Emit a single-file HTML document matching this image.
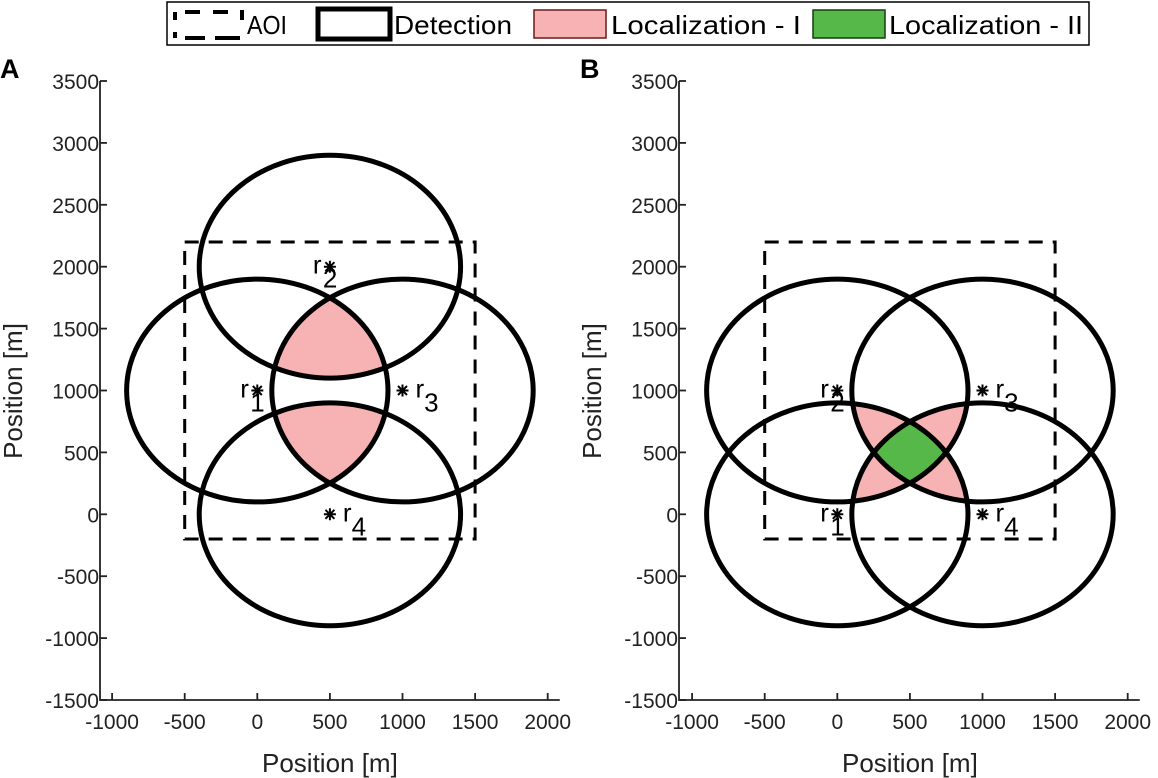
<!DOCTYPE html>
<html><head><meta charset="utf-8"><style>
body{margin:0;background:#fff}
svg{display:block;font-family:"Liberation Sans",Arial,sans-serif}
</style></head><body>
<svg id="fig" width="1158" height="778" viewBox="0 0 1158 778">
<g id="legend">
<rect x="167" y="2" width="922" height="43" fill="#fff" stroke="#000" stroke-width="1.5"/>
<g>
<path d="M175,12V20 M175,32V38 M185,38H205 M215,38H240 M185,12H200 M213,12H228 M242,10V20" fill="none" stroke="#000" stroke-width="4"/>
<text x="247" y="34" font-size="26" textLength="40" lengthAdjust="spacingAndGlyphs">AOI</text></g>
<g>
<rect x="318" y="9" width="72" height="30" fill="#fff" stroke="#000" stroke-width="5"/>
<text x="394" y="34" font-size="26" textLength="118" lengthAdjust="spacingAndGlyphs">Detection</text></g>
<g>
<rect x="534" y="10" width="72" height="28" fill="#f7b3b4" stroke="#6b1a1a" stroke-width="1.5"/>
<text x="611" y="34" font-size="26" textLength="190" lengthAdjust="spacingAndGlyphs">Localization - I</text></g>
<g>
<rect x="813" y="10" width="72" height="28" fill="#55b848" stroke="#1a3a12" stroke-width="1.5"/>
<text x="889" y="34" font-size="26" textLength="194" lengthAdjust="spacingAndGlyphs">Localization - II</text></g>
</g>
</svg>
<script>
// data
const xTicks=[-1000,-500,0,500,1000,1500,2000];
const yTicks=[-1500,-1000,-500,0,500,1000,1500,2000,2500,3000,3500];
const radius=900;
const aoi=[-500,-200,1500,2200]; // xmin,ymin,xmax,ymax
const receiversA_x=[0,500,1000,500];
const receiversA_y=[1000,2000,1000,0];
const receiversB_x=[0,0,1000,1000];
const receiversB_y=[0,1000,1000,0];
const labelsA=["1","2","3","4"];
const labelsB=["1","2","3","4"];

const NS="http://www.w3.org/2000/svg";
const svg=document.getElementById('fig');
function mk(tag,attrs,parent){const e=document.createElementNS(NS,tag);for(const k in attrs)e.setAttribute(k,attrs[k]);(parent||svg).appendChild(e);return e;}

const panels=[
 {id:'a',left:100,zeroX:257.3,letter:'A',lx:0,rx:receiversA_x,ry:receiversA_y,lab:labelsA,
  regions:[{cs:[0,1,2],fill:'#f7b3b4'},{cs:[0,2,3],fill:'#f7b3b4'}],
  side:['l','l','r','r']},
 {id:'b',left:679,zeroX:837.3,letter:'B',lx:580,rx:receiversB_x,ry:receiversB_y,lab:labelsB,
  regions:[{cs:[0,1,2],fill:'#f7b3b4'},{cs:[1,2,3],fill:'#f7b3b4'},{cs:[2,3,0],fill:'#f7b3b4'},{cs:[3,0,1],fill:'#f7b3b4'},{cs:[0,1,2,3],fill:'#55b848'}],
  side:['l','l','r','r']}
];
const kx=0.1452, ky=0.1238, zeroY=514.3;
const defs=mk('defs',{});
panels.forEach(p=>{
 const X=v=>p.zeroX+v*kx, Y=v=>zeroY-v*ky;
 const right=X(2083), top=Y(3500), bottom=Y(-1500);
 const g=mk('g',{});
 
 
 const L=mk('text',{x:p.lx,y:78,'font-size':27,'font-weight':'bold'},g);L.textContent=p.letter;
 
 
 p.rx.forEach((cx,i)=>{const cp=mk('clipPath',{id:'c'+p.id+i},defs);
  mk('ellipse',{cx:X(cx),cy:Y(p.ry[i]),rx:radius*kx,ry:radius*ky},cp);});
 p.regions.forEach((r,ri)=>{
  const wrap=mk('g',{},g);
  
  
  let parent=wrap;
  for(let j=1;j<r.cs.length;j++){parent=mk('g',{'clip-path':'url(#c'+p.id+r.cs[j]+')'},parent);}
  const c=r.cs[0];
  mk('ellipse',{cx:X(p.rx[c]),cy:Y(p.ry[c]),rx:radius*kx,ry:radius*ky,fill:r.fill,stroke:'#5a1414','stroke-width':3},parent);
 });
 const a=mk('rect',{x:X(aoi[0]),y:Y(aoi[3]),width:X(aoi[2])-X(aoi[0]),height:Y(aoi[1])-Y(aoi[3]),fill:'none',stroke:'#000','stroke-width':3,'stroke-dasharray':'14,10'},g);
 
 
 p.rx.forEach((cx,i)=>{
  const e=mk('ellipse',{cx:X(cx),cy:Y(p.ry[i]),rx:radius*kx,ry:radius*ky,fill:'none',stroke:'#000','stroke-width':5},g);
  
  
 });
 p.rx.forEach((cx,i)=>{
  const sx=X(cx),sy=Y(p.ry[i]);
  const s=mk('path',{d:`M${sx-6},${sy}H${sx+6}M${sx},${sy-6}V${sy+6}M${sx-4.5},${sy-4.5}L${sx+4.5},${sy+4.5}M${sx-4.5},${sy+4.5}L${sx+4.5},${sy-4.5}`,stroke:'#000','stroke-width':2},g);
  
  
  const left=p.side[i]==='l';
  const t=mk('text',{x:left?sx-17:sx+13,y:sy+7,'font-size':26},g);
  t.textContent='r';
  const sub=mk('tspan',{dx:left?0:0,dy:14,'font-size':26},t);sub.textContent=p.lab[i];
  if(left){sub.setAttribute('x',sx-7);}
  
  
 });
 const ax=mk('path',{d:`M${p.left},${top}V${bottom}H${right}`,fill:'none',stroke:'#222','stroke-width':1.8},g);
 
 
 xTicks.forEach(v=>{
  mk('line',{x1:X(v),x2:X(v),y1:bottom,y2:bottom-7,stroke:'#222','stroke-width':1.8},g);
  const t=mk('text',{x:X(v),y:bottom+29,'font-size':21,'text-anchor':'middle',fill:'#222'},g);t.textContent=v;
  
  
 });
 yTicks.forEach(v=>{
  mk('line',{x1:p.left,x2:p.left+7,y1:Y(v),y2:Y(v),stroke:'#222','stroke-width':1.8},g);
  const t=mk('text',{x:p.left-1,y:Y(v)+8,'font-size':21,'text-anchor':'end',fill:'#222'},g);t.textContent=v;
  
  
 });
 const xl=mk('text',{x:X(500),y:772,'font-size':26,'text-anchor':'middle',fill:'#222'},g);xl.textContent='Position [m]';
 
 
 const yx=p.left-78;
 const yl=mk('text',{x:yx,y:391,'font-size':26,'text-anchor':'middle',fill:'#222',transform:`rotate(-90 ${yx} 391)`},g);yl.textContent='Position [m]';
 
 
});
</script>
</body></html>
